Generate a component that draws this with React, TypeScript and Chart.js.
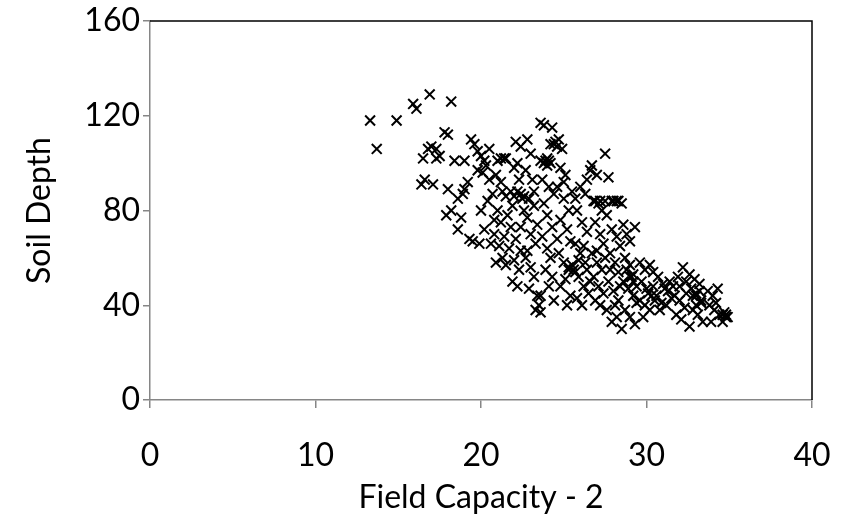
import React, { useEffect, useRef } from "react";
import { Chart, registerables } from "chart.js";

Chart.register(...registerables);

const fieldCapacity: number[] = [
  13.3, 13.7, 14.9,
  15.9, 16.1, 16.4, 16.6, 16.5, 16.8, 16.9, 17.0, 17.3, 17.1, 17.5,
  17.8, 18.0, 17.3, 17.9, 18.2, 18.2, 18.4, 18.0,
  18.6, 18.9, 19.0, 18.8, 19.2, 18.6, 19.3, 19.5, 19.0, 19.4, 19.6,
  19.8, 20.0, 20.1, 20.3, 19.8, 20.4, 20.0, 20.2, 20.6, 20.8, 20.5, 20.7, 19.9, 20.2, 20.5,
  21.0, 21.2, 21.4, 20.9, 21.3, 21.5, 21.0, 21.2, 21.4, 21.1, 21.3, 20.9, 21.5, 21.6, 20.8, 21.2,
  21.8, 22.0, 21.9, 22.1, 22.4, 22.2, 22.3, 22.0, 21.8, 22.1, 22.4, 22.0, 22.3, 21.9, 22.2, 22.5, 22.6, 21.7, 22.4,
  22.8, 23.0, 22.7, 23.1, 22.9, 23.2, 22.8, 23.0, 23.3, 22.7, 23.0, 23.2, 22.9, 23.4, 23.5, 23.6, 23.3, 22.8, 23.4, 23.2,
  23.6, 23.8, 24.3, 23.6, 23.9, 24.0, 24.2, 23.7, 24.1, 24.4, 23.8, 24.0, 24.3, 23.7, 24.0, 24.2, 23.9, 24.3, 24.1, 23.6, 24.4, 24.4, 24.6,
  24.7, 24.9, 24.8, 25.1, 24.6, 25.0, 25.3, 24.8, 25.2, 25.4, 24.7, 25.0, 25.3, 25.1, 24.8, 25.4, 25.2, 25.5, 25.0, 24.6,
  25.7, 26.0, 26.3, 25.8, 26.1, 26.4, 25.7, 26.0, 26.3, 25.6, 25.9, 26.2, 26.5, 25.8, 26.1, 26.4, 26.2, 25.9, 26.6, 26.4,
  26.7, 27.0, 26.8, 27.1, 27.3, 27.5, 26.9, 27.2, 27.4, 26.7, 27.0, 27.3, 26.8, 27.1, 27.4, 26.9, 27.2, 27.5, 26.6, 27.0,
  27.7, 28.0, 28.3, 28.5, 27.6, 27.9, 28.2, 28.4, 27.8, 28.1, 28.3, 27.7, 28.0, 28.3, 27.6, 27.9, 28.2, 28.4, 27.8, 28.1,
  28.6, 28.8, 29.0, 29.3, 28.7, 29.0, 29.2, 28.6, 28.9, 29.2, 29.4, 28.7, 29.0, 29.3, 29.1, 28.8, 29.4, 28.5,
  29.6, 29.9, 30.2, 30.4, 29.7, 30.0, 30.3, 29.6, 29.9, 30.2, 30.5, 29.8, 30.1, 30.4,
  30.7, 31.0, 31.3, 30.6, 30.9, 31.2, 31.5, 30.8, 31.1, 31.4,
  31.6, 31.9, 32.2, 32.4, 31.7, 32.0, 32.3, 31.8, 32.1, 32.4, 32.0,
  32.6, 32.9, 33.2, 32.7, 33.0, 33.3, 32.8, 33.1, 33.4, 32.6, 33.2, 33.0,
  33.7, 34.0, 34.3, 33.8, 34.1, 34.4, 34.7, 34.9, 34.6, 34.8, 33.9, 34.2,
  26.9, 27.2, 27.5, 27.9, 28.2, 22.2, 22.4, 22.6, 23.8, 24.1, 24.0,
  25.3, 25.5, 25.7, 32.8, 33.0, 33.3, 34.6, 34.8, 29.2, 29.0, 24.2, 24.5, 21.5,
];

const soilDepth: number[] = [
  118, 106, 118,
  125, 123, 91, 93, 102, 106, 129, 107, 106, 91, 103,
  113, 112, 102, 78, 80, 126, 101, 89,
  85, 87, 89, 77, 92, 72, 68, 67, 101, 110, 108,
  105, 103, 96, 99, 97, 84, 80, 72, 66, 76, 93, 87, 66, 101, 106,
  101, 102, 102, 95, 88, 86, 80, 75, 69, 65, 60, 58, 57, 78, 70, 92,
  88, 86, 82, 109, 107, 100, 93, 98, 73, 68, 63, 59, 55, 50, 48, 85, 80, 64, 73,
  110, 104, 97, 93, 85, 82, 77, 70, 66, 60, 56, 52, 47, 44, 40, 37, 38, 63, 74, 88,
  117, 116, 115, 101, 101, 99, 100, 93, 90, 87, 83, 78, 73, 69, 64, 60, 55, 52, 48, 44, 42, 108, 107,
  110, 106, 98, 95, 90, 85, 80, 76, 72, 67, 62, 58, 55, 51, 48, 44, 40, 88, 92, 68,
  85, 90, 87, 80, 75, 71, 66, 62, 58, 55, 52, 48, 45, 43, 40, 55, 65, 59, 97, 93,
  99, 95, 84, 83, 80, 104, 75, 70, 66, 62, 58, 55, 52, 48, 45, 42, 40, 60, 50, 63,
  94, 84, 84, 83, 78, 72, 69, 65, 62, 58, 54, 50, 46, 42, 38, 33, 35, 48, 55, 40,
  74, 70, 67, 73, 60, 57, 53, 50, 47, 44, 41, 38, 35, 32, 52, 55, 48, 30,
  58, 55, 57, 54, 50, 47, 44, 42, 40, 38, 42, 35, 45, 48,
  52, 49, 46, 44, 41, 40, 43, 38, 47, 50,
  48, 52, 56, 50, 44, 42, 39, 36, 34, 45, 48,
  53, 51, 49, 47, 44, 41, 38, 36, 33, 31, 46, 40,
  46, 44, 47, 40, 38, 36, 37, 35, 33, 36, 33, 41,
  84, 84, 84, 84, 84, 88, 87, 86, 100, 101, 102,
  56, 57, 54, 44, 45, 42, 36, 35, 50, 52, 108, 109, 102,
];

const xTicks: number[] = [0, 10, 20, 30, 40];
const yTicks: number[] = [0, 40, 80, 120, 160];

const FONT = "Lato, 'Open Sans', sans-serif";
const FONT_SIZE = 32;

export default function App() {
  const ref = useRef<HTMLCanvasElement | null>(null);

  useEffect(() => {
    document.body.style.margin = "0";
    const canvas = ref.current;
    if (!canvas) return;
    const points = fieldCapacity.map((x, i) => ({ x, y: soilDepth[i] }));

    const borderPlugin = {
      id: "plotBorder",
      afterDraw(chart: any) {
        const { ctx, chartArea } = chart;
        ctx.save();
        ctx.strokeStyle = "#000000";
        ctx.lineWidth = 1.5;
        ctx.beginPath();
        ctx.moveTo(chartArea.left, chartArea.top);
        ctx.lineTo(chartArea.right, chartArea.top);
        ctx.lineTo(chartArea.right, chartArea.bottom);
        ctx.stroke();
        ctx.restore();
      },
    };

    const chart = new Chart(canvas, {
      type: "scatter",
      data: {
        datasets: [
          {
            data: points,
            pointStyle: "crossRot",
            pointRadius: 7,
            pointBorderWidth: 2,
            borderColor: "#000000",
            backgroundColor: "#000000",
          },
        ],
      },
      options: {
        animation: false,
        responsive: false,
        layout: { padding: { top: 21, right: 36, left: 20, bottom: 0 } },
        plugins: { legend: { display: false }, tooltip: { enabled: false } },
        scales: {
          x: {
            type: "linear",
            min: 0,
            max: 40,
            afterBuildTicks(scale: any) {
              scale.ticks = xTicks.map((v) => ({ value: v }));
            },
            afterFit(scale: any) {
              scale.height = 117;
              scale.paddingLeft = 0;
              scale.paddingRight = 0;
            },
            grid: {
              display: true,
              drawOnChartArea: false,
              drawTicks: true,
              tickLength: 8,
              color: "#868686",
              lineWidth: 1.5,
            },
            border: { display: true, color: "#868686", width: 1.5 },
            ticks: {
              color: "#000000",
              font: { family: FONT, size: FONT_SIZE },
              padding: 28,
              maxRotation: 0,
            },
            title: {
              display: true,
              text: "Field Capacity - 2",
              color: "#000000",
              font: { family: FONT, size: FONT_SIZE },
              padding: { top: 0, bottom: 0 },
            },
          },
          y: {
            type: "linear",
            min: 0,
            max: 160,
            afterBuildTicks(scale: any) {
              scale.ticks = yTicks.map((v) => ({ value: v }));
            },
            afterFit(scale: any) {
              scale.width = 130;
              scale.paddingTop = 0;
              scale.paddingBottom = 0;
            },
            grid: {
              display: true,
              drawOnChartArea: false,
              drawTicks: true,
              tickLength: 7,
              color: "#868686",
              lineWidth: 1.5,
            },
            border: { display: true, color: "#868686", width: 1.5 },
            ticks: {
              color: "#000000",
              font: { family: FONT, size: FONT_SIZE },
              padding: 3,
            },
            title: {
              display: true,
              text: "Soil Depth",
              color: "#000000",
              font: { family: FONT, size: FONT_SIZE },
              padding: { top: 0, bottom: 0 },
            },
          },
        },
      },
      plugins: [borderPlugin],
    });

    return () => chart.destroy();
  }, []);

  return (
    <div style={{ width: 848, height: 517 }}>
      <canvas ref={ref} width={848} height={517} style={{ display: "block" }} />
    </div>
  );
}
